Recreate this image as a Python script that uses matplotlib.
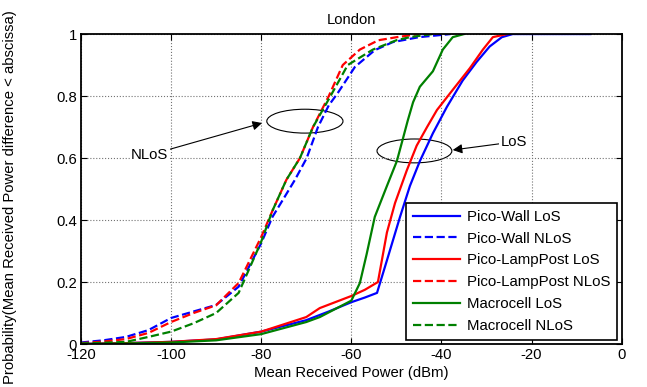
import matplotlib
matplotlib.use('Agg')
import matplotlib.pyplot as plt
from matplotlib.patches import Ellipse

plt.rcParams['font.family'] = ['Liberation Sans', 'DejaVu Sans']
plt.rcParams['axes.unicode_minus'] = False

# ---- data (x in dBm, y = CDF) ----
wall_los_x = [-120, -110, -100, -90, -80, -70, -65, -60, -57, -54.3, -52.1, -49.2, -47,
              -44.8, -41.9, -38.8, -35.3, -32.2, -29.3, -26.6, -24.2, -7]
wall_los_y = [0.0, 0.003, 0.007, 0.015, 0.04, 0.077, 0.105, 0.135, 0.15, 0.165, 0.27, 0.41,
              0.51, 0.59, 0.68, 0.765, 0.85, 0.91, 0.96, 0.99, 1.0, 1.0]

wall_nlos_x = [-120, -115, -110, -105, -100, -95, -90, -85, -80, -77.5, -75.2, -72.5,
               -69.9, -67.4, -65, -63, -59.2, -54.8, -50.8, -45, -38]
wall_nlos_y = [0.005, 0.012, 0.023, 0.045, 0.084, 0.105, 0.126, 0.185, 0.325, 0.41, 0.465,
               0.53, 0.6, 0.7, 0.77, 0.81, 0.894, 0.948, 0.974, 0.99, 1.0]

lamp_los_x = [-120, -110, -100, -90, -80, -70, -67, -60, -57, -54.1, -52.1, -50.3, -47.7,
              -45.5, -43.2, -41, -37.5, -33.7, -30.8, -28.6, -25.5]
lamp_los_y = [0.0, 0.003, 0.007, 0.016, 0.04, 0.087, 0.116, 0.155, 0.175, 0.2, 0.36, 0.455,
              0.56, 0.64, 0.7, 0.755, 0.82, 0.89, 0.95, 0.99, 1.0]

lamp_nlos_x = [-120, -115, -110, -105, -100, -95, -90, -85, -80, -77.5, -74.4, -71.4,
               -68.5, -65, -61.9, -58.1, -54, -49.9, -45]
lamp_nlos_y = [0.003, 0.008, 0.016, 0.036, 0.071, 0.1, 0.125, 0.197, 0.345, 0.43, 0.53,
               0.6, 0.7, 0.8, 0.9, 0.95, 0.98, 0.99, 1.0]

macro_los_x = [-120, -110, -100, -90, -80, -70, -67, -60, -58.1, -56.6, -54.8, -52.1, -49.9,
               -48.6, -47.5, -46.3, -44.8, -41.9, -39.7, -37.5, -35]
macro_los_y = [0.0, 0.002, 0.005, 0.012, 0.032, 0.071, 0.087, 0.14, 0.197, 0.29, 0.41, 0.51,
               0.59, 0.66, 0.72, 0.78, 0.83, 0.88, 0.95, 0.99, 1.0]

macro_nlos_x = [-120, -115, -110, -105, -100, -95, -90, -85, -80, -77.5, -74.4, -71.4,
                -68.5, -65, -60.8, -55.2, -50, -47, -42]
macro_nlos_y = [0.002, 0.004, 0.007, 0.023, 0.04, 0.067, 0.1, 0.165, 0.33, 0.43, 0.53, 0.6,
                0.7, 0.79, 0.9, 0.95, 0.98, 0.99, 1.0]

fs = 10.7

fig = plt.figure(figsize=(6.47, 3.87), dpi=100)
ax = fig.add_axes([0.125, 0.111, 0.836, 0.801])

lw = 1.6
ax.plot(wall_los_x, wall_los_y, color='#0000ff', lw=lw, label='Pico-Wall LoS')
ax.plot(wall_nlos_x, wall_nlos_y, color='#0000ff', lw=lw, ls='--', label='Pico-Wall NLoS')
ax.plot(lamp_los_x, lamp_los_y, color='#ff0000', lw=lw, label='Pico-LampPost LoS')
ax.plot(lamp_nlos_x, lamp_nlos_y, color='#ff0000', lw=lw, ls='--', label='Pico-LampPost NLoS')
ax.plot(macro_los_x, macro_los_y, color='#008000', lw=lw, label='Macrocell LoS')
ax.plot(macro_nlos_x, macro_nlos_y, color='#008000', lw=lw, ls='--', label='Macrocell NLoS')

ax.set_xlim(-120, 0)
ax.set_ylim(0, 1)
ax.set_xticks([-120, -100, -80, -60, -40, -20, 0])
ax.set_yticks([0, 0.2, 0.4, 0.6, 0.8, 1])
ax.set_yticklabels(['0', '0.2', '0.4', '0.6', '0.8', '1'])
ax.grid(True, ls=':', color='0.45', lw=0.8)
ax.tick_params(direction='in', top=True, right=True, length=4, labelsize=fs,
               colors='black', pad=3)
for s in ax.spines.values():
    s.set_linewidth(1.3)

ax.set_title('London', fontsize=fs, pad=7)
ax.set_xlabel('Mean Received Power (dBm)', fontsize=fs, labelpad=3)
ax.set_ylabel('Probability(Mean Received Power difference < abscissa)', fontsize=fs)
ax.yaxis.set_label_coords(-0.118, 0.474)

# annotations
ax.add_patch(Ellipse((-70.3, 0.719), 16.9, 0.077, fill=False, ec='black', lw=0.8))
ax.add_patch(Ellipse((-46.0, 0.623), 16.6, 0.077, fill=False, ec='black', lw=0.8))
ax.annotate('NLoS', xy=(-79.8, 0.713), xytext=(-104.7, 0.61), fontsize=fs,
            ha='center', va='center',
            bbox=dict(fc='white', ec='none', pad=1),
            arrowprops=dict(arrowstyle='-|>', color='black', lw=0.8, mutation_scale=14,
                            shrinkA=0, shrinkB=0))
ax.annotate('LoS', xy=(-37.5, 0.626), xytext=(-24.0, 0.652), fontsize=fs,
            ha='center', va='center',
            bbox=dict(fc='white', ec='none', pad=1),
            arrowprops=dict(arrowstyle='-|>', color='black', lw=0.8, mutation_scale=14,
                            shrinkA=0, shrinkB=0))

leg = ax.legend(loc='lower right', fontsize=10.8, handlelength=3.1, fancybox=False,
                framealpha=1, edgecolor='black', borderaxespad=0.3,
                labelspacing=0.52, borderpad=0.45, handletextpad=0.5)
leg.get_frame().set_linewidth(1.2)

fig.savefig('out.png', dpi=100)
